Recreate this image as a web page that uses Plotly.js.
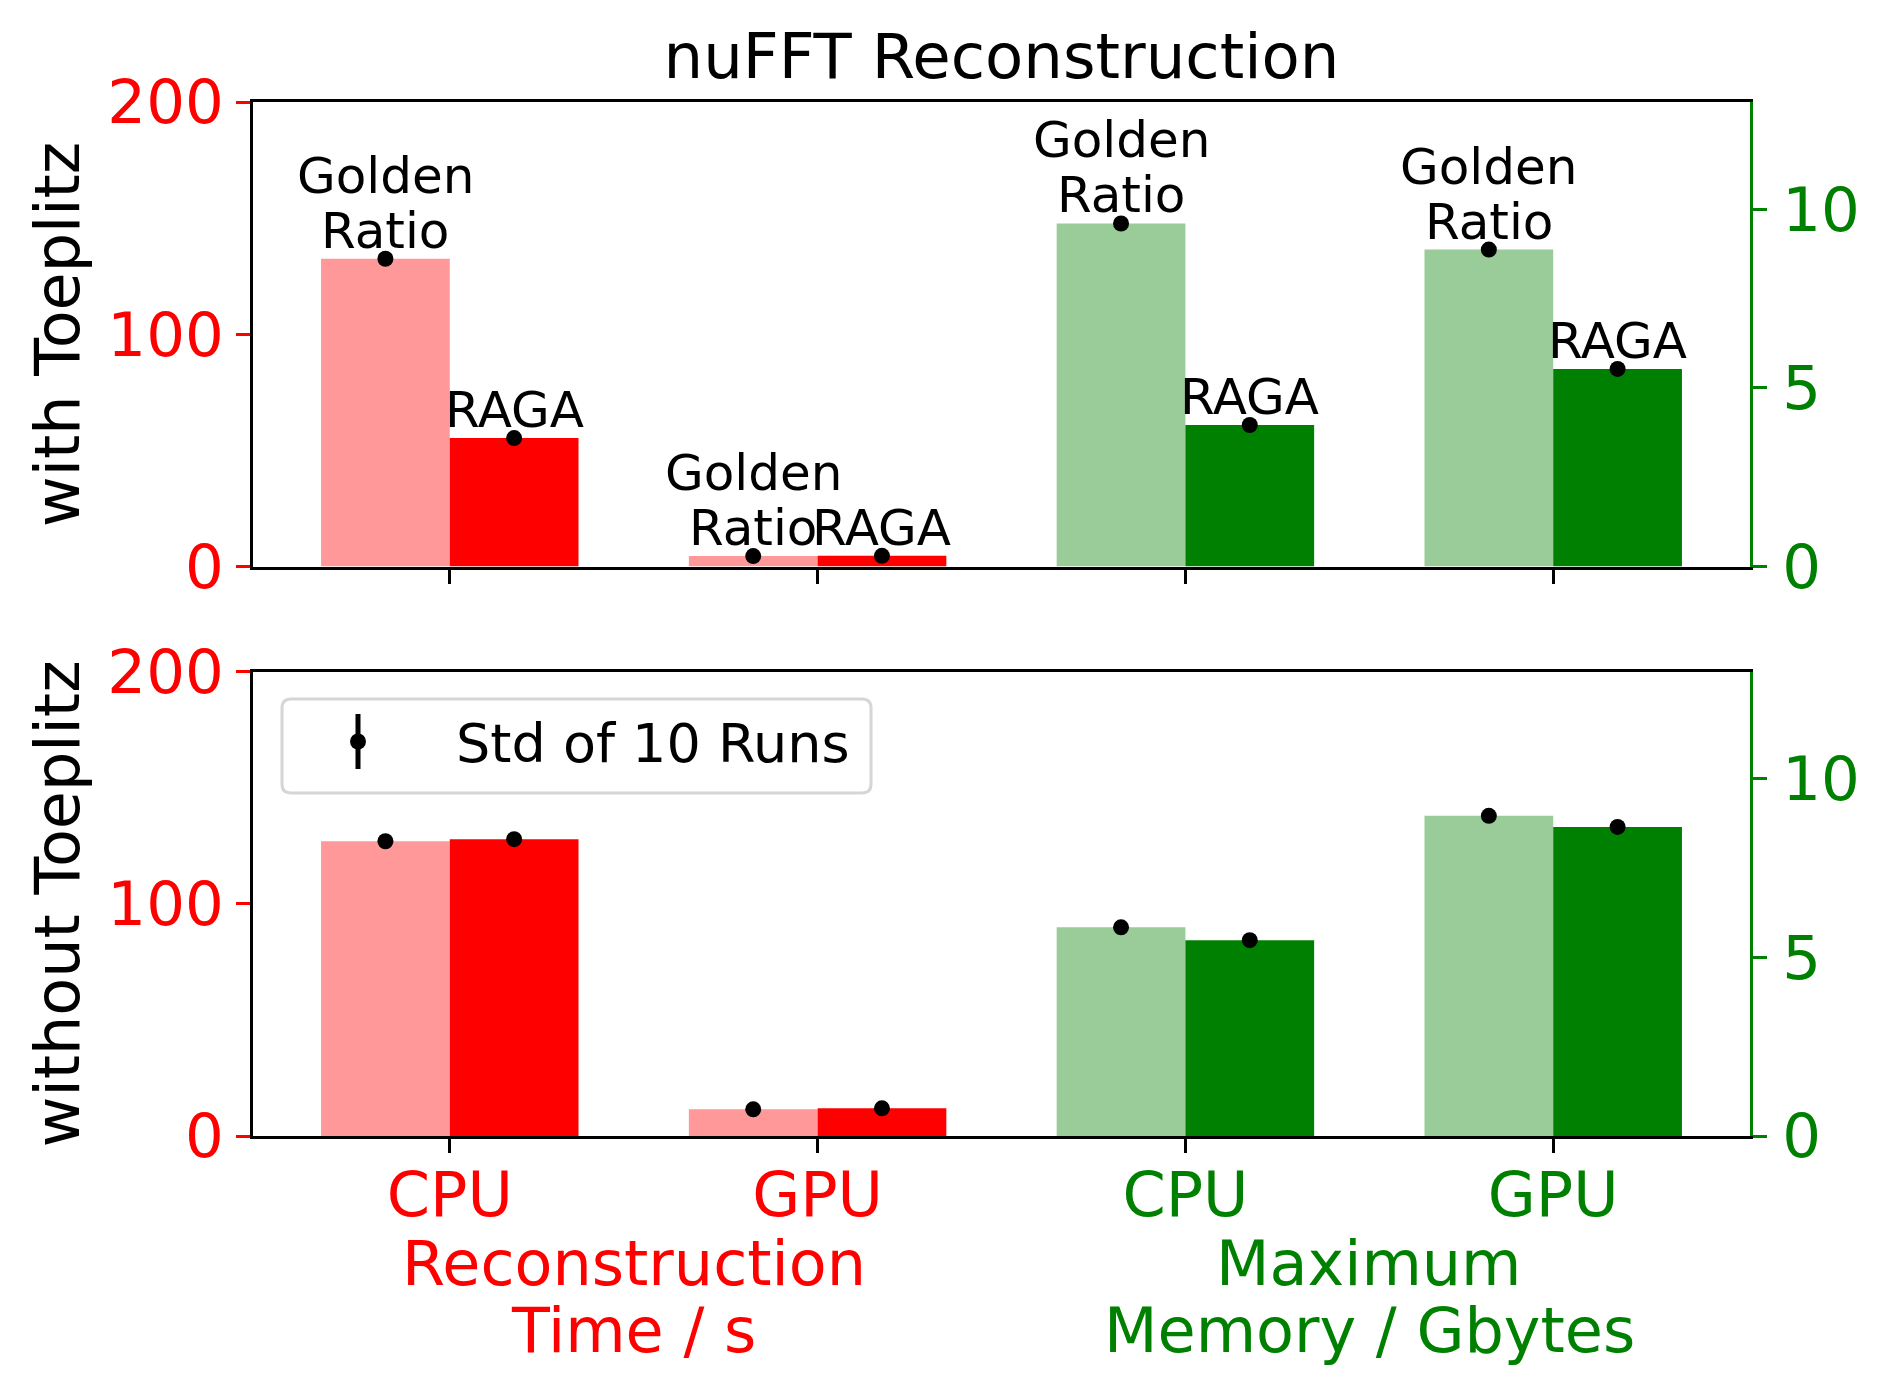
<!DOCTYPE html>
<html><head><meta charset="utf-8">
<script src="https://cdn.plot.ly/plotly-3.0.1.min.js"></script>
<style>html,body{margin:0;padding:0;background:#fff}</style>
</head><body><div id="chart" style="width:1890px;height:1396px"></div>
<script>
// ---- data ----
const devices = ["CPU", "GPU"];
const methods = ["Golden Ratio", "RAGA"];
const groupTime = ["Reconstruction", "Time / s"];
const groupMem = ["Maximum", "Memory / Gbytes"];
const panelTitles = ["with Toeplitz", "without Toeplitz"];
const legendLabel = "Std of 10 Runs";
// with Toeplitz
const timeWithGolden = [132.5, 4.5];
const timeWithRaga = [55.3, 4.6];
const memWithGolden = [9.60, 8.87];
const memWithRaga = [3.96, 5.53];
// without Toeplitz
const timeWithoutGolden = [126.9, 11.5];
const timeWithoutRaga = [127.8, 11.9];
const memWithoutGolden = [5.84, 8.96];
const memWithoutRaga = [5.48, 8.65];
// std of 10 runs (too small to see behind the markers)
const timeStdGolden = [1.0, 0.2];
const timeStdRaga = [1.0, 0.2];
const memStdGolden = [0.05, 0.05];
const memStdRaga = [0.05, 0.05];

// ---- layout helpers ----
const W = 1890, H = 1396;
const M = {l: 253, r: 140, t: 102, b: 260};
const PW = W - M.l - M.r, PH = H - M.t - M.b;
const px = X => (X - M.l) / PW;
const py = Y => (H - M.b - Y) / PH;
const topDom = [py(566.5), 1];
const botDom = [0, py(671.5)];

const timePos = [0, 1];
const memPos = [2, 3];
const BW = 0.35;
const RED = "#ff0000", LRED = "#ff9999", GREEN = "#008000", LGREEN = "#99cc99";
const FONT = "DejaVu Sans";
const BIG = 62, TICK = 61, ANN = 50;

function bars(pos, vals, light, dark, xa, ya, isGolden) {
  return {type: "bar", x: pos, y: vals, width: BW, offset: isGolden ? -BW : 0,
    marker: {color: isGolden ? light : dark, line: {width: 0}},
    xaxis: xa, yaxis: ya, showlegend: false, hoverinfo: "skip"};
}
function dots(pos, vals, std, xa, ya, isGolden) {
  return {type: "scatter", mode: "markers",
    x: pos.map(p => p + (isGolden ? -BW / 2 : BW / 2)), y: vals,
    error_y: {type: "data", array: std, color: "black", thickness: 3, width: 0},
    marker: {color: "black", size: 16}, cliponaxis: false,
    xaxis: xa, yaxis: ya, showlegend: false, hoverinfo: "skip"};
}

const traces = [
  bars(timePos, timeWithGolden, LRED, RED, "x", "y", true),
  bars(timePos, timeWithRaga, LRED, RED, "x", "y", false),
  bars(memPos, memWithGolden, LGREEN, GREEN, "x", "y2", true),
  bars(memPos, memWithRaga, LGREEN, GREEN, "x", "y2", false),
  bars(timePos, timeWithoutGolden, LRED, RED, "x2", "y3", true),
  bars(timePos, timeWithoutRaga, LRED, RED, "x2", "y3", false),
  bars(memPos, memWithoutGolden, LGREEN, GREEN, "x2", "y4", true),
  bars(memPos, memWithoutRaga, LGREEN, GREEN, "x2", "y4", false),
  dots(timePos, timeWithGolden, timeStdGolden, "x", "y", true),
  dots(timePos, timeWithRaga, timeStdRaga, "x", "y", false),
  dots(memPos, memWithGolden, memStdGolden, "x", "y2", true),
  dots(memPos, memWithRaga, memStdRaga, "x", "y2", false),
  dots(timePos, timeWithoutGolden, timeStdGolden, "x2", "y3", true),
  dots(timePos, timeWithoutRaga, timeStdRaga, "x2", "y3", false),
  dots(memPos, memWithoutGolden, memStdGolden, "x2", "y4", true),
  dots(memPos, memWithoutRaga, memStdRaga, "x2", "y4", false)
];

// annotations above the top-panel bars
const annotations = [];
const goldenWords = methods[0].split(" ");
function labelBars(pos, golden, raga, ya) {
  pos.forEach((p, i) => {
    annotations.push({xref: "x", yref: ya, x: p - BW / 2, y: golden[i], text: goldenWords[1], yshift: -3,
      showarrow: false, yanchor: "bottom", xanchor: "center", font: {family: FONT, size: ANN, color: "black"}});
    annotations.push({xref: "x", yref: ya, x: p - BW / 2, y: golden[i], text: goldenWords[0], yshift: 52,
      showarrow: false, yanchor: "bottom", xanchor: "center", font: {family: FONT, size: ANN, color: "black"}});
    annotations.push({xref: "x", yref: ya, x: p + BW / 2, y: raga[i], text: methods[1], yshift: -3,
      showarrow: false, yanchor: "bottom", xanchor: "center", font: {family: FONT, size: ANN, color: "black"}});
  });
}
labelBars(timePos, timeWithGolden, timeWithRaga, "y");
labelBars(memPos, memWithGolden, memWithRaga, "y2");

// group labels under the x axis
const groupLineY = [1263, 1330];
function groupLabel(lines, centerX, color) {
  lines.forEach((t, k) => annotations.push({xref: "x2", yref: "paper", x: centerX, y: py(groupLineY[k]),
    text: t, showarrow: false, xanchor: "center", yanchor: "middle",
    font: {family: FONT, size: BIG, color: color}}));
}
groupLabel(groupTime, (timePos[0] + timePos[1]) / 2, RED);
groupLabel(groupMem, (memPos[0] + memPos[1]) / 2, GREEN);

// legend (custom: marker with error bar)
const lg = {x0: 282, x1: 871, y0: 699, y1: 793, r: 9};
function roundRect(b) {
  const X0 = px(b.x0), X1 = px(b.x1), Y0 = py(b.y1), Y1 = py(b.y0);
  const rx = b.r / PW, ry = b.r / PH;
  return `M ${X0 + rx} ${Y0} L ${X1 - rx} ${Y0} Q ${X1} ${Y0} ${X1} ${Y0 + ry} L ${X1} ${Y1 - ry} Q ${X1} ${Y1} ${X1 - rx} ${Y1} L ${X0 + rx} ${Y1} Q ${X0} ${Y1} ${X0} ${Y1 - ry} L ${X0} ${Y0 + ry} Q ${X0} ${Y0} ${X0 + rx} ${Y0} Z`;
}
const symX = 358, symY0 = 714, symY1 = 769, symYc = 741.5;
const shapes = [
  {type: "path", xref: "paper", yref: "paper", path: roundRect(lg),
    fillcolor: "rgba(255,255,255,0.8)", line: {color: "#d6d6d6", width: 3}},
  {type: "line", xref: "paper", yref: "paper", x0: px(symX), x1: px(symX), y0: py(symY0), y1: py(symY1),
    line: {color: "black", width: 5}},
  {type: "circle", xref: "paper", yref: "paper", x0: px(symX - 8), x1: px(symX + 8), y0: py(symYc + 8), y1: py(symYc - 8),
    fillcolor: "black", line: {color: "black", width: 0}}
];
annotations.push({xref: "paper", yref: "paper", x: px(454), y: py(743), text: legendLabel,
  showarrow: false, xanchor: "left", yanchor: "middle", font: {family: FONT, size: 54, color: "black"}});

const tickText = [RED, RED, GREEN, GREEN].map((c, i) =>
  `<span style="color:${c}">${devices[i % 2]}</span>`);

const xBase = {range: [-0.535, 3.535], tickvals: timePos.concat(memPos), ticks: "outside", ticklen: 14,
  tickwidth: 3, tickcolor: "black", showline: true, linecolor: "black", linewidth: 3, mirror: true,
  showgrid: false, zeroline: false, domain: [0, 1], fixedrange: true};
const yLeft = (dom, title) => ({domain: dom, range: [0, 200], tickvals: [0, 100, 200], ticks: "outside",
  ticklen: 14, tickwidth: 3, tickcolor: RED, tickfont: {family: FONT, size: TICK, color: RED},
  ticklabelstandoff: 0,
  showline: true, linecolor: "black", linewidth: 3, showgrid: false, zeroline: false,
  title: {text: title, font: {family: FONT, size: BIG, color: "black"}, standoff: 8}});
const yRight = (ov) => ({overlaying: ov, side: "right", range: [0, 13], tickvals: [0, 5, 10],
  ticks: "outside", ticklen: 14, tickwidth: 3, tickcolor: GREEN,
  tickfont: {family: FONT, size: TICK, color: GREEN}, ticklabelstandoff: 3,
  showline: true, linecolor: GREEN, linewidth: 3, showgrid: false, zeroline: false});

const layout = {
  width: W, height: H, margin: M, paper_bgcolor: "white", plot_bgcolor: "white",
  font: {family: FONT, color: "black"}, barmode: "overlay", showlegend: false,
  title: {text: "nuFFT Reconstruction", font: {family: FONT, size: 62.5, color: "black"},
    x: 0.5, xref: "paper", xanchor: "center", y: 1 - 56 / H, yref: "container", yanchor: "middle"},
  xaxis: Object.assign({}, xBase, {anchor: "y", showticklabels: false}),
  xaxis2: Object.assign({}, xBase, {anchor: "y3", ticktext: tickText, ticklabelstandoff: -11,
    tickfont: {family: FONT, size: BIG, color: "black"}}),
  yaxis: yLeft(topDom, panelTitles[0]),
  yaxis2: Object.assign(yRight("y"), {anchor: "x"}),
  yaxis3: Object.assign(yLeft(botDom, panelTitles[1]), {anchor: "x2"}),
  yaxis4: Object.assign(yRight("y3"), {anchor: "x2"}),
  annotations: annotations, shapes: shapes
};

Plotly.newPlot("chart", traces, layout, {staticPlot: true, displayModeBar: false});
</script></body></html>
